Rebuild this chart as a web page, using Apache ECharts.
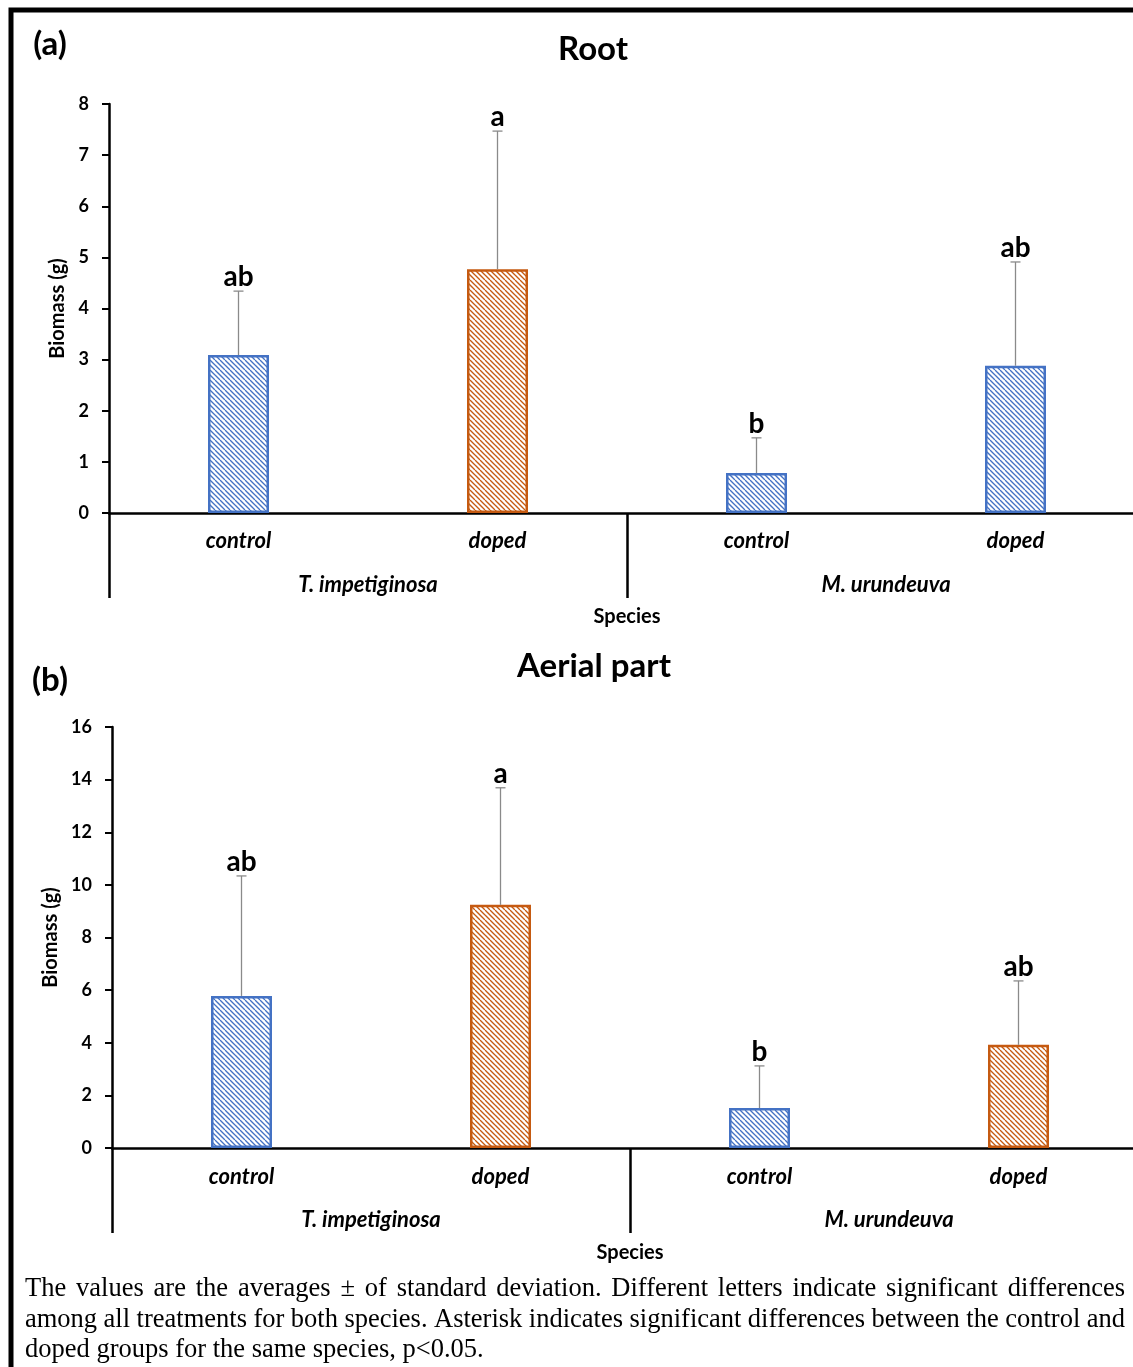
<!DOCTYPE html>
<html><head><meta charset="utf-8">
<script src="https://cdn.jsdelivr.net/npm/echarts@6/dist/echarts.min.js"></script>
<style>html,body{margin:0;padding:0;background:#fff}#c{width:1133px;height:1367px}</style>
</head><body><div id="c"></div>
<script>
// ---- data ----
const categories = ['control', 'doped', 'control', 'doped'];
const species = ['T. impetiginosa', 'M. urundeuva'];
const rootMean = [3.09, 4.77, 0.78, 2.88];
const rootSD = [1.25, 2.70, 0.69, 2.03];
const rootLetters = ['ab', 'a', 'b', 'ab'];
const rootColorKeys = ['blue', 'orange', 'blue', 'blue'];
const aerialMean = [5.78, 9.24, 1.52, 3.92];
const aerialSD = [4.56, 4.45, 1.60, 2.43];
const aerialLetters = ['ab', 'a', 'b', 'ab'];
const aerialColorKeys = ['blue', 'orange', 'blue', 'orange'];
const rootAxis = { min: 0, max: 8, interval: 1 };
const aerialAxis = { min: 0, max: 16, interval: 2 };
const captionLines = [
  'The values are the averages \u00b1 of standard deviation. Different letters indicate significant differences',
  'among all treatments for both species. Asterisk indicates significant differences between the control and',
  'doped groups for the same species, p<0.05.'
];

// ---- styles ----
const FONT = 'Lato, "Open Sans", sans-serif';
const COLORS = { blue: '#4472C4', orange: '#C55A11' };

function hatch(color) {
  const s = 10;
  const c = document.createElement('canvas');
  c.width = s; c.height = s;
  const g = c.getContext('2d');
  g.fillStyle = '#fff'; g.fillRect(0, 0, s, s);
  g.strokeStyle = color; g.lineWidth = 1.3;
  for (const k of [-10, -5, 0, 5, 10]) {
    g.beginPath(); g.moveTo(k, 0); g.lineTo(k + s, s); g.stroke();
  }
  return c;
}
const PATTERNS = { blue: hatch(COLORS.blue), orange: hatch(COLORS.orange) };

function barSeries(idx, means, keys) {
  return {
    type: 'bar', xAxisIndex: idx * 2, yAxisIndex: idx, barWidth: 61, z: 3,
    data: means.map((v, i) => ({
      value: v,
      itemStyle: {
        color: { image: PATTERNS[keys[i]], repeat: 'repeat' },
        borderColor: COLORS[keys[i]], borderWidth: 2.5
      }
    }))
  };
}

function errSeries(idx, means, sds, letters) {
  return {
    type: 'custom', xAxisIndex: idx * 2, yAxisIndex: idx, z: 5,
    data: means.map((m, i) => [i, m, m + sds[i]]),
    renderItem(params, api) {
      const i = api.value(0);
      const p0 = api.coord([i, api.value(1)]);
      const p1 = api.coord([i, api.value(2)]);
      const st = { stroke: '#8a8a8a', lineWidth: 1.3 };
      return {
        type: 'group', children: [
          { type: 'line', shape: { x1: p0[0], y1: p0[1], x2: p1[0], y2: p1[1] }, style: st },
          { type: 'line', shape: { x1: p1[0] - 5, y1: p1[1], x2: p1[0] + 5, y2: p1[1] }, style: st },
          { type: 'text', x: p1[0], y: p1[1] - 14,
            style: { text: letters[params.dataIndex], font: 'bold 28px ' + FONT, fill: '#000', align: 'center', verticalAlign: 'middle' } }
        ]
      };
    }
  };
}

function xAxes(idx, labelMargin, groupMargin, nameGap) {
  return [
    { type: 'category', gridIndex: idx, data: categories, position: 'bottom',
      axisLine: { show: true, lineStyle: { color: '#000', width: 2.5 } },
      axisTick: { show: false },
      axisLabel: { margin: labelMargin, color: '#000', fontFamily: FONT, fontWeight: 'bold', fontStyle: 'italic', fontSize: 22 } },
    { type: 'category', gridIndex: idx, data: species, position: 'bottom',
      axisLine: { show: false },
      axisTick: { show: true, length: 85, alignWithLabel: false, lineStyle: { color: '#000', width: 2.5 } },
      axisLabel: { margin: groupMargin, color: '#000', fontFamily: FONT, fontWeight: 'bold', fontStyle: 'italic', fontSize: 22 },
      name: 'Species', nameLocation: 'middle', nameGap: nameGap,
      nameTextStyle: { color: '#000', fontFamily: FONT, fontWeight: 'bold', fontSize: 20 } }
  ];
}

function yAxis(idx, ax) {
  return {
    type: 'value', gridIndex: idx, min: ax.min, max: ax.max, interval: ax.interval,
    axisLine: { show: true, lineStyle: { color: '#000', width: 2.5 } },
    axisTick: { show: true, length: 7, lineStyle: { color: '#000', width: 2 } },
    splitLine: { show: false },
    axisLabel: { margin: 20, color: '#000', fontFamily: FONT, fontWeight: 'bold', fontSize: 18 },
    name: 'Biomass (g)', nameLocation: 'middle', nameGap: 41,
    nameTextStyle: { color: '#000', fontFamily: FONT, fontWeight: 'bold', fontSize: 20 }
  };
}

// caption, justified word by word
function captionGraphics() {
  const font = '26.5px "Liberation Serif", "Times New Roman", serif';
  const ctx = document.createElement('canvas').getContext('2d');
  ctx.font = font;
  const out = [];
  const left = 25, right = 1125, ys = [1289, 1320, 1350];
  captionLines.forEach((line, li) => {
    const words = line.split(' ');
    const widths = words.map(w => ctx.measureText(w).width);
    const total = widths.reduce((a, b) => a + b, 0);
    const justify = li < captionLines.length - 1;
    const gap = justify ? (right - left - total) / (words.length - 1) : ctx.measureText(' ').width;
    let x = left;
    words.forEach((w, i) => {
      out.push({ type: 'text', x: x, y: ys[li], style: { text: w, font: font, fill: '#000', align: 'left', verticalAlign: 'middle' } });
      x += widths[i] + gap;
    });
  });
  return out;
}

const chart = echarts.init(document.getElementById('c'), null, { renderer: 'canvas' });
chart.setOption({
  animation: false,
  backgroundColor: '#fff',
  grid: [
    { left: 109, top: 104, width: 1036, height: 409, outerBoundsMode: 'none', containLabel: false },
    { left: 112, top: 727, width: 1036, height: 421, outerBoundsMode: 'none', containLabel: false }
  ],
  xAxis: [...xAxes(0, 17, 61, 94), ...xAxes(1, 18, 61, 95)],
  yAxis: [yAxis(0, rootAxis), yAxis(1, aerialAxis)],
  series: [
    barSeries(0, rootMean, rootColorKeys),
    errSeries(0, rootMean, rootSD, rootLetters),
    barSeries(1, aerialMean, aerialColorKeys),
    errSeries(1, aerialMean, aerialSD, aerialLetters)
  ],
  graphic: [
    { type: 'rect', shape: { x: 11, y: 10, width: 1300, height: 1500 }, style: { fill: null, stroke: '#000', lineWidth: 5 }, z: 100 },
    { type: 'text', x: 593, y: 49, style: { text: 'Root', font: 'bold 33px ' + FONT, fill: '#000', align: 'center', verticalAlign: 'middle' } },
    { type: 'text', x: 50, y: 44, style: { text: '(a)', font: 'bold 33px ' + FONT, fill: '#000', align: 'center', verticalAlign: 'middle' } },
    { type: 'text', x: 594, y: 666, style: { text: 'Aerial part', font: 'bold 33px ' + FONT, fill: '#000', align: 'center', verticalAlign: 'middle' } },
    { type: 'text', x: 50, y: 680, style: { text: '(b)', font: 'bold 33px ' + FONT, fill: '#000', align: 'center', verticalAlign: 'middle' } },
    ...captionGraphics()
  ]
});
</script>
</body></html>
